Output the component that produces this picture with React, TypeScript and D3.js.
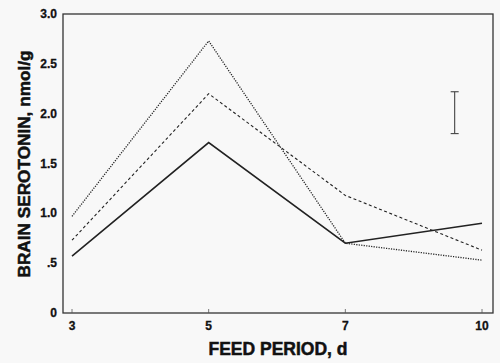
import * as d3 from 'd3'

const WIDTH = 500
const HEIGHT = 363
const MARGIN = { top: 14, right: 7, bottom: 50, left: 63 }

const FEED_DAYS = ['3', '5', '7', '10']
const SOLID_VALUES = [0.57, 1.71, 0.7, 0.9]
const DASHED_VALUES = [0.73, 2.2, 1.18, 0.63]
const DOTTED_VALUES = [0.97, 2.73, 0.7, 0.53]
const Y_TICKS = [0, 0.5, 1, 1.5, 2, 2.5, 3]
const Y_TICK_LABELS = ['0', '.5', '1.0', '1.5', '2.0', '2.5', '3.0']
const ERROR_BAR = { day: 9.4, low: 1.8, high: 2.22 }

const SERIES = [
  { name: 'solid', values: SOLID_VALUES, dash: undefined, width: 1.6 },
  { name: 'dashed', values: DASHED_VALUES, dash: '3 2.5', width: 1.1 },
  { name: 'dotted', values: DOTTED_VALUES, dash: '1.2 1.3', width: 1.3 },
]

export default function App() {
  const x = d3
    .scalePoint<string>()
    .domain(FEED_DAYS)
    .range([MARGIN.left + 9, WIDTH - MARGIN.right - 11])
  const y = d3
    .scaleLinear()
    .domain([0, 3])
    .range([HEIGHT - MARGIN.bottom, MARGIN.top])

  const line = d3
    .line<number>()
    .x((_, i) => x(FEED_DAYS[i]) ?? 0)
    .y((v) => y(v))

  // error bar sits between the 7 and 10 day columns
  const ex = d3
    .scaleLinear()
    .domain([7, 10])
    .range([x('7') ?? 0, x('10') ?? 0])(ERROR_BAR.day)

  const left = MARGIN.left
  const right = WIDTH - MARGIN.right
  const top = MARGIN.top
  const bottom = HEIGHT - MARGIN.bottom
  const font = '"Liberation Sans", Arial, Helvetica, sans-serif'

  return (
    <svg
      width={WIDTH}
      height={HEIGHT}
      style={{ position: 'absolute', left: 0, top: 0, background: '#f8f8f8' }}
      fontFamily={font}
    >
      <rect x={0} y={0} width={WIDTH} height={HEIGHT} fill="#f8f8f8" />
      <rect
        x={left}
        y={top}
        width={right - left}
        height={bottom - top}
        fill="none"
        stroke="#333"
        strokeWidth={1.3}
      />

      {Y_TICKS.map((t, i) => (
        <text
          key={t}
          x={left - 6}
          y={y(t) + 4}
          textAnchor="end"
          fontSize={12}
          fontWeight="bold"
          fill="#111"
          stroke="#111"
          strokeWidth={0.3}
        >
          {Y_TICK_LABELS[i]}
        </text>
      ))}

      {FEED_DAYS.map((d) => (
        <g key={d}>
          <line x1={x(d)} x2={x(d)} y1={bottom} y2={bottom - 4} stroke="#555" strokeWidth={0.8} />
          <text
            x={x(d)}
            y={bottom + 17}
            textAnchor="middle"
            fontSize={12}
            fontWeight="bold"
            fill="#111"
            stroke="#111"
            strokeWidth={0.3}
          >
            {d}
          </text>
        </g>
      ))}

      <text
        x={278}
        y={355}
        textAnchor="middle"
        fontSize={17.5}
        fontWeight="bold"
        fill="#111"
        stroke="#111"
        strokeWidth={0.5}
      >
        FEED PERIOD, d
      </text>
      <text
        transform={`translate(30 164) rotate(-90)`}
        textAnchor="middle"
        fontSize={17.2}
        fontWeight="bold"
        fill="#111"
        stroke="#111"
        strokeWidth={0.5}
      >
        BRAIN SEROTONIN, nmol/g
      </text>

      {SERIES.map((s) => (
        <path
          key={s.name}
          d={line(s.values) ?? undefined}
          fill="none"
          stroke="#222"
          strokeWidth={s.width}
          strokeDasharray={s.dash}
        />
      ))}

      <g stroke="#444" strokeWidth={1.1}>
        <line x1={ex} x2={ex} y1={y(ERROR_BAR.low)} y2={y(ERROR_BAR.high)} />
        <line x1={ex - 4} x2={ex + 4} y1={y(ERROR_BAR.low)} y2={y(ERROR_BAR.low)} />
        <line x1={ex - 4} x2={ex + 4} y1={y(ERROR_BAR.high)} y2={y(ERROR_BAR.high)} />
      </g>
    </svg>
  )
}
